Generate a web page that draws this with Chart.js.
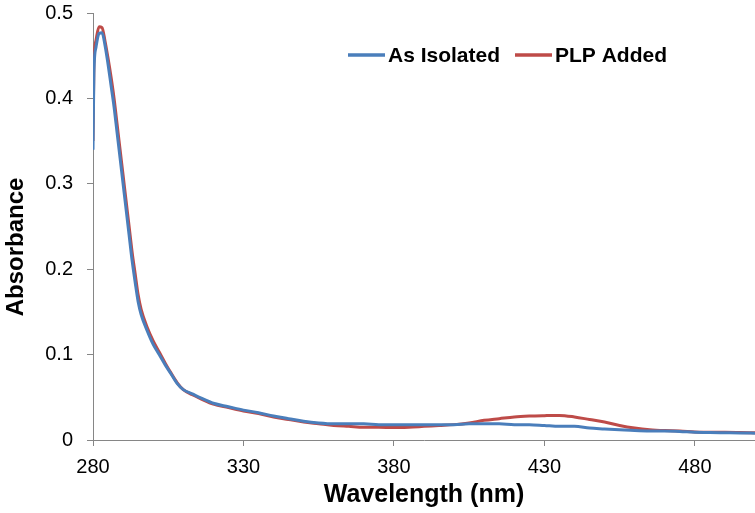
<!DOCTYPE html>
<html>
<head>
<meta charset="utf-8">
<script src="https://cdn.jsdelivr.net/npm/chart.js@4/dist/chart.umd.min.js"></script>
<style>
  html, body { margin: 0; padding: 0; background: #fff; }
  #wrap { width: 755px; height: 513px; position: relative; }
</style>
</head>
<body>
<div id="wrap"><canvas id="grafica"></canvas></div>
<script>
const wavelengths = [280, 280.3, 281, 282, 283, 284, 285, 286, 287, 288, 289, 290, 291, 292, 293, 294, 295, 296,
  298, 300, 302, 304, 306, 308, 310, 313, 316,
  320, 325, 330, 335, 340, 345, 350, 355, 360, 365, 370, 375, 380, 385, 390, 395, 400, 405, 410, 415,
  420, 425, 430, 435, 440, 445, 450, 455, 460, 465, 470, 475, 480, 485, 490, 495, 500];

const asIsolated = [0.34, 0.43, 0.46, 0.476, 0.477, 0.462, 0.44, 0.415, 0.39, 0.36, 0.33, 0.3, 0.27, 0.24, 0.21, 0.185, 0.162, 0.147,
  0.128, 0.112, 0.1, 0.088, 0.077, 0.066, 0.059, 0.054, 0.049,
  0.043, 0.039, 0.035, 0.032, 0.028, 0.025, 0.022, 0.02, 0.019, 0.019, 0.019, 0.018, 0.018, 0.018, 0.018, 0.018, 0.018, 0.019, 0.019, 0.019,
  0.018, 0.018, 0.017, 0.016, 0.016, 0.014, 0.013, 0.012, 0.011, 0.0105, 0.0105, 0.01, 0.009, 0.0088, 0.0085, 0.0082, 0.008];

const plpAdded = [0.35, 0.44, 0.468, 0.484, 0.483, 0.467, 0.447, 0.425, 0.4, 0.37, 0.34, 0.31, 0.28, 0.25, 0.22, 0.195, 0.17, 0.153,
  0.132, 0.116, 0.103, 0.09, 0.078, 0.067, 0.059, 0.053, 0.048,
  0.042, 0.038, 0.034, 0.031, 0.027, 0.024, 0.021, 0.019, 0.017, 0.016, 0.015, 0.015, 0.0145, 0.015, 0.016, 0.017, 0.018, 0.02, 0.023, 0.025,
  0.027, 0.028, 0.0285, 0.0288, 0.027, 0.024, 0.021, 0.017, 0.014, 0.012, 0.011, 0.0105, 0.0095, 0.009, 0.009, 0.0088, 0.0085];

const xTicks = [280, 330, 380, 430, 480];
const yTicks = [0, 0.1, 0.2, 0.3, 0.4, 0.5];

const AXIS_GRAY = '#868686';
const FONT = "'Liberation Sans', Arial, sans-serif";

function puntos(valores) {
  return wavelengths.map((w, i) => ({ x: w, y: valores[i] }));
}

// leyenda dentro del area del grafico + titulo del eje Y (un poco bajo el centro, como en el original)
const extrasGrafica = {
  id: 'extrasGrafica',
  afterDraw(chart) {
    const ctx = chart.ctx;
    const items = [{ ds: chart.data.datasets[0], x: 348 }, { ds: chart.data.datasets[1], x: 515 }];
    ctx.save();
    ctx.font = "bold 21px " + FONT;
    ctx.textBaseline = 'middle';
    ctx.fillStyle = '#000';
    items.forEach(it => {
      ctx.strokeStyle = it.ds.borderColor;
      ctx.lineWidth = 3.5;
      ctx.beginPath();
      ctx.moveTo(it.x, 55);
      ctx.lineTo(it.x + 37, 55);
      ctx.stroke();
      ctx.fillText(it.ds.label, it.x + 40, 56);
    });

    ctx.translate(16, 247);
    ctx.rotate(-Math.PI / 2);
    ctx.textAlign = 'center';
    ctx.font = "bold 24px " + FONT;
    ctx.fillText('Absorbance', 0, 0);
    ctx.restore();
  }
};

const ctx = document.getElementById('grafica').getContext('2d');
new Chart(ctx, {
  type: 'line',
  data: {
    datasets: [
      {
        label: 'As Isolated',
        data: puntos(asIsolated),
        borderColor: '#4A7EBB',
        borderWidth: 3,
        pointRadius: 0,
        cubicInterpolationMode: 'monotone'
      },
      {
        label: 'PLP Added',
        data: puntos(plpAdded),
        borderColor: '#BE4B48',
        borderWidth: 3,
        pointRadius: 0,
        cubicInterpolationMode: 'monotone'
      }
    ]
  },
  options: {
    responsive: true,
    maintainAspectRatio: false,
    animation: false,
    layout: { padding: { top: 13, right: 0, left: 0, bottom: 0 } },
    plugins: {
      legend: { display: false },
      tooltip: { enabled: false }
    },
    scales: {
      x: {
        type: 'linear',
        min: 280,
        max: 500,
        afterBuildTicks: s => { s.ticks = xTicks.map(v => ({ value: v })); },
        afterFit: s => { s.height = 73; s.paddingLeft = 0; s.paddingRight = 0; },
        grid: { drawOnChartArea: false, color: AXIS_GRAY, tickLength: 6 },
        border: { color: AXIS_GRAY, width: 1 },
        ticks: { color: '#000', font: { family: FONT, size: 20 }, padding: 9, maxRotation: 0 },
        title: {
          display: true,
          text: 'Wavelength (nm)',
          color: '#000',
          font: { family: FONT, size: 25, weight: 'bold' },
          padding: { top: 2, bottom: 3 }
        }
      },
      y: {
        min: 0,
        max: 0.5,
        afterBuildTicks: s => { s.ticks = yTicks.map(v => ({ value: v })); },
        afterFit: s => { s.width = 93; s.paddingTop = 0; s.paddingBottom = 0; },
        grid: { drawOnChartArea: false, color: AXIS_GRAY, tickLength: 6 },
        border: { color: AXIS_GRAY, width: 1 },
        ticks: { color: '#000', font: { family: FONT, size: 20 }, padding: 14 }
      }
    }
  },
  plugins: [extrasGrafica]
});
</script>
</body>
</html>
